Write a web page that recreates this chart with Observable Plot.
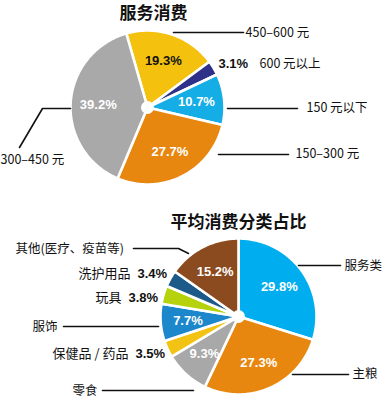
<!DOCTYPE html>
<html>
<head>
<meta charset="utf-8">
<script src="https://cdn.jsdelivr.net/npm/d3@7"></script>
<script src="https://cdn.jsdelivr.net/npm/@observablehq/plot@0.6"></script>
<style>
  html, body { margin: 0; padding: 0; background: #fff; }
  #chart svg { display: block; }
</style>
</head>
<body>
<div id="chart"></div>
<script>
// ---------- DATA ----------
const serviceTitle = "服务消费";
const serviceLabels = ["450–600 元", "600 元以上", "150 元以下", "150–300 元", "300–450 元"];
const serviceShares = [19.3, 3.1, 10.7, 27.7, 39.2];

const categoryTitle = "平均消费分类占比";
const categoryLabels = ["服务类", "主粮", "零食", "保健品 / 药品", "服饰", "玩具", "洗护用品", "其他(医疗、疫苗等)"];
const categoryShares = [29.8, 27.3, 9.3, 3.5, 7.7, 3.8, 3.4, 15.2];

// ---------- STYLE / LAYOUT ----------
const serviceColors = ["#f4c10f", "#2d3187", "#15ade6", "#e8870f", "#a9a9a9"];
const categoryColors = ["#00aeef", "#e8870f", "#a8a8a8", "#f2c313", "#1d87cc", "#b5d20c", "#1c5a89", "#8b4b1f"];

const W = 383, H = 398;
const pie1 = {cx: 147, cy: 107, r: 77, start: -16 * Math.PI / 180, inner: 0.64};
const pie2 = {cx: 238, cy: 316, r: 78, start: 0, inner: 0.65};

function buildPie(labels, shares, colors, layout, key) {
  const arcs = d3.pie().sort(null).value(d => d)
    .startAngle(layout.start).endAngle(layout.start + 2 * Math.PI)(shares);
  const verts = [];
  const centroids = [];
  arcs.forEach((a, i) => {
    const n = Math.max(2, Math.ceil((a.endAngle - a.startAngle) / (Math.PI / 180)));
    verts.push({k: key + i, x: layout.cx, y: layout.cy, color: colors[i]});
    for (let j = 0; j <= n; j++) {
      const t = a.startAngle + (a.endAngle - a.startAngle) * j / n;
      verts.push({k: key + i, x: layout.cx + layout.r * Math.sin(t), y: layout.cy - layout.r * Math.cos(t), color: colors[i]});
    }
    verts.push({k: key + i, x: layout.cx, y: layout.cy, color: colors[i]});
    const m = (a.startAngle + a.endAngle) / 2;
    centroids.push({
      label: labels[i], value: shares[i], text: shares[i].toFixed(1) + "%",
      x: layout.cx + layout.r * layout.inner * Math.sin(m),
      y: layout.cy - layout.r * layout.inner * Math.cos(m)
    });
  });
  return {verts, centroids};
}

const p1 = buildPie(serviceLabels, serviceShares, serviceColors, pie1, "s");
const p2 = buildPie(categoryLabels, categoryShares, categoryColors, pie2, "c");

// inside percentage labels (large slices)
const inside1 = p1.centroids.filter(d => d.value >= 10).map(d => ({...d, fill: d.value === 19.3 ? "#111" : "#fff"}));
const inside2 = p2.centroids.filter(d => d.value >= 5);

// annotation placement (category names / outside values)
const nameLayout = {
  "450–600 元": [245, 32], "600 元以上": [259, 63], "150 元以下": [306, 107],
  "150–300 元": [295, 153], "300–450 元": [0, 159],
  "其他(医疗、疫苗等)": [15, 248], "服饰": [32, 326], "零食": [72, 390],
  "服务类": [344, 265], "主粮": [352, 373]
};
const names = [...serviceLabels, ...categoryLabels]
  .filter(l => nameLayout[l]).map(l => ({label: l, x: nameLayout[l][0], y: nameLayout[l][1]}));

// small slices with value + name on the left (pie 2) and 3.1% (pie 1)
const outsideLayout = {"洗护用品": [137, 273], "玩具": [128, 297], "保健品 / 药品": [135, 353]};
const outside = p2.centroids.filter(d => outsideLayout[d.label])
  .map(d => ({...d, x: outsideLayout[d.label][0], y: outsideLayout[d.label][1]}));
const outside1 = p1.centroids.filter(d => d.value < 5).map(d => ({...d, x: 218, y: 63}));

const leaders = [
  {k: "a", pts: [[173, 32], [243, 32]]},
  {k: "b", pts: [[227, 108], [297, 108]]},
  {k: "c", pts: [[218, 154], [288, 154]]},
  {k: "d", pts: [[70, 108], [42, 108], [19, 147]]},
  {k: "e", pts: [[133, 248], [178, 248], [188, 253]]},
  {k: "f", pts: [[63, 326], [158, 326]]},
  {k: "g", pts: [[102, 390], [193, 390]]},
  {k: "h", pts: [[298, 265], [340, 265]]},
  {k: "i", pts: [[292, 374], [348, 374]]}
].flatMap(l => l.pts.map(p => ({k: l.k, x: p[0], y: p[1]})));

const titles = [
  {text: serviceTitle, x: 153, y: 13},
  {text: categoryTitle, x: 238, y: 222}
];

const cjk = "'Noto Sans CJK SC', 'Liberation Sans', sans-serif";
const num = "'Liberation Sans', Arial, sans-serif";

const chart = Plot.plot({
  width: W, height: H, margin: 0,
  x: {domain: [0, W], range: [0, W], axis: null},
  y: {domain: [0, H], range: [0, H], axis: null},
  style: {background: "#fff"},
  marks: [
    Plot.line([...p1.verts, ...p2.verts], {x: "x", y: "y", z: "k", fill: "color", stroke: "#fff", strokeWidth: 2.6, strokeLinejoin: "round", curve: "linear"}),
    Plot.dot([{x: pie1.cx, y: pie1.cy}, {x: pie2.cx, y: pie2.cy}], {x: "x", y: "y", r: 6.5, fill: "#fff", stroke: "none"}),
    Plot.line(leaders, {x: "x", y: "y", z: "k", stroke: "#111", strokeWidth: 1.6, curve: "linear"}),
    Plot.text(inside1, {x: "x", y: "y", text: "text", fill: "fill", fontFamily: num, fontWeight: "bold", fontSize: 13}),
    Plot.text(inside2, {x: "x", y: "y", text: "text", fill: "#fff", fontFamily: num, fontWeight: "bold", fontSize: 13}),
    Plot.text(outside1, {x: "x", y: "y", text: "text", textAnchor: "start", fill: "#111", fontFamily: num, fontWeight: "bold", fontSize: 13}),
    Plot.text(outside, {x: "x", y: "y", text: "text", textAnchor: "start", fill: "#111", fontFamily: num, fontWeight: "bold", fontSize: 13}),
    Plot.text(outside, {x: "x", y: "y", text: "label", textAnchor: "end", dx: -7, fill: "#111", fontFamily: cjk, fontSize: 13}),
    Plot.text(names, {x: "x", y: "y", text: "label", textAnchor: "start", fill: "#111", fontFamily: cjk, fontSize: 12.5}),
    Plot.text(titles, {x: "x", y: "y", text: "text", fill: "#111", fontFamily: cjk, fontWeight: "bold", fontSize: 17})
  ]
});
document.getElementById("chart").appendChild(chart);
</script>
</body>
</html>
